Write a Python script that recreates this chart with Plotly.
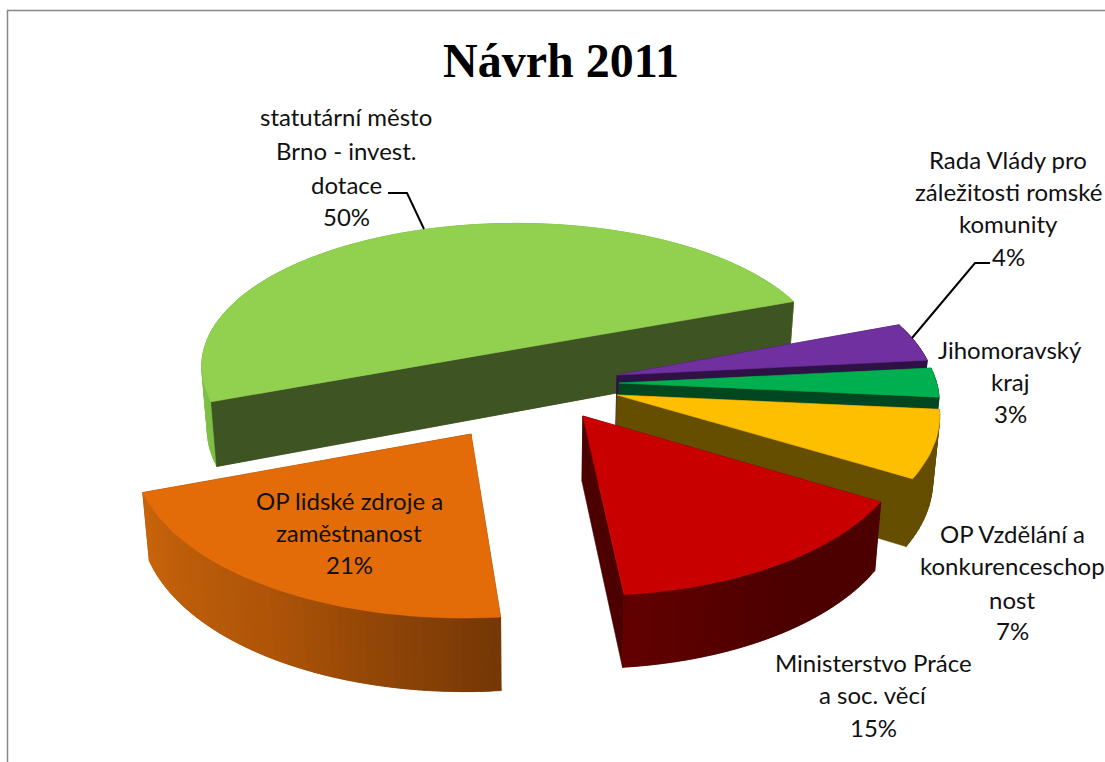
import math
import plotly.graph_objects as go

# ---- data ----
CATEGORIES = ["Rada Vlády pro záležitosti romské komunity", "Jihomoravský kraj",
              "OP Vzdělání a konkurenceschopnost", "Ministerstvo Práce a soc. věcí",
              "OP lidské zdroje a zaměstnanost", "statutární město Brno - invest. dotace"]
VALUES = [4, 3, 7, 15, 21, 50]
TITLE = "Návrh 2011"
LABEL_LINES = [
    ["Rada Vlády pro", "záležitosti romské", "komunity"],
    ["Jihomoravský", "kraj"],
    ["OP Vzdělání a", "konkurenceschop", "nost"],
    ["Ministerstvo Práce", "a soc. věcí"],
    ["OP lidské zdroje a", "zaměstnanost"],
    ["statutární město", "Brno - invest.", "dotace"],
]

# ---- styling / layout constants ----
TOP = ["#7030a0", "#00b050", "#fdbf00", "#c80000", "#e36c09", "#92d050"]
FACE = ["#2e1145", "#004721", "#664e00", "#4d0000", "#753806", "#3e5423"]
WALL = [["#2e1145", "#2e1145"], ["#004721", "#004721"], ["#664e00", "#664e00"],
        ["#620000", "#4d0000", "#4d0000"], ["#c8640c", "#ae5408", "#753806"],
        ["#7ebf45", "#7ebf45"]]
PULL_U = [0.2754, 0.2805, 0.272, 0.163, -0.18, -0.052]
PULL_V = [0.0649, 0.0129, -0.064, -0.196, -0.307, 0.235]
STRETCH_U = [1.0, 1.0, 1.0, 1.0, 1.02, 1.0]
FIRST_ANGLE = 70.0
DRAW_ORDER = [5, 0, 1, 2, 3, 4]
CX, CY, RX, RY, K, K2, DEPTH, CONVERGE = 530.0, 385.0, 318.0, 155.0, 0.10, 0.04, 64.0, 0.983
LABEL_X = [1008, 1010, 1012, 873, 349, 346]
LABEL_Y = [[159.5, 191.5, 223.5, 256.5], [349.5, 381.5, 413.5], [533.5, 565.5, 599.5, 630.5],
           [662.5, 694.5, 727.5], [500.5, 532.5, 564.5], [116.5, 150.5, 184.5, 216.5]]
LEADERS = [([990, 975, 912], [263, 263, 338]), ([388, 407, 424], [193, 193, 229])]
FONT = "Lato"
FS = 24


def project(u, v, low=False):
    w = 1 + K * v + K2 * max(v, 0) ** 2
    x = CX + RX * u / w
    y = CY - RY * v / w
    if low:
        x = CX + (x - CX) * CONVERGE
        y = y + DEPTH / w
    return x, y


def mix(stops, t):
    pos = t * (len(stops) - 1)
    i = min(int(pos), len(stops) - 2)
    f = pos - i
    a = [int(stops[i][j:j + 2], 16) for j in (1, 3, 5)]
    b = [int(stops[i + 1][j:j + 2], 16) for j in (1, 3, 5)]
    return "rgb(%d,%d,%d)" % tuple(round(a[n] + (b[n] - a[n]) * f) for n in range(3))


fig = go.Figure()


def poly(pts, color, lw=0.6):
    xs = [p[0] for p in pts] + [pts[0][0]]
    ys = [p[1] for p in pts] + [pts[0][1]]
    fig.add_trace(go.Scatter(x=xs, y=ys, mode="lines", fill="toself", fillcolor=color,
                             line=dict(color=color, width=lw), hoverinfo="skip", showlegend=False))


total = float(sum(VALUES))
starts = [FIRST_ANGLE + sum(VALUES[:i]) / total * 360.0 for i in range(len(VALUES))]
for i in DRAW_ORDER:
    start = starts[i]
    span = VALUES[i] / total * 360.0
    n = max(4, int(span / 1.5))
    angs = [math.radians(start + span * j / n) for j in range(n + 1)]
    pu, pv = PULL_U[i], PULL_V[i]
    rim = [(pu + STRETCH_U[i] * math.sin(a), pv + math.cos(a)) for a in angs]
    # radial cut faces
    for end in (rim[0], rim[-1]):
        poly([project(pu, pv), project(*end), project(*end, low=True), project(pu, pv, low=True)], FACE[i])
    # outer wall; each strip overlaps the next one so no seams show
    m = len(rim) - 1
    for j in range(m):
        t = 1 - j / max(1, m - 1)
        k = min(j + 2, m)
        strip = rim[j:k + 1]
        poly([project(*p) for p in strip] + [project(*p, low=True) for p in reversed(strip)],
             mix(WALL[i], t))
    if i == 5:  # the back half's cut face sits in front of its own rim
        poly([project(*rim[0]), project(*rim[-1]), project(*rim[-1], low=True), project(*rim[0], low=True)], FACE[i])
    # top
    poly([project(pu, pv)] + [project(*p) for p in rim], TOP[i])

for lx, ly in LEADERS:
    fig.add_trace(go.Scatter(x=lx, y=ly, mode="lines", line=dict(color="black", width=2),
                             hoverinfo="skip", showlegend=False))

# chart frame
fig.add_shape(type="line", x0=7.5, x1=7.5, y0=10, y1=762, line=dict(color="#878787", width=1.5))
fig.add_shape(type="line", x0=7, x1=1105, y0=10.5, y1=10.5, line=dict(color="#878787", width=1.5))

fig.add_annotation(x=561, y=60, text="<b>%s</b>" % TITLE, showarrow=False,
                   font=dict(family="Liberation Serif", size=48, color="black"))
for i, lines in enumerate(LABEL_LINES):
    pct = "%d%%" % round(VALUES[i] / total * 100)
    for txt, y in zip(lines + [pct], LABEL_Y[i]):
        fig.add_annotation(x=LABEL_X[i], y=y, text=txt, showarrow=False, xanchor="center", yanchor="middle",
                           font=dict(family=FONT, size=FS, color="#111111"))

fig.update_layout(width=1105, height=762, margin=dict(l=0, r=0, t=0, b=0), autosize=False,
                  paper_bgcolor="white", plot_bgcolor="white",
                  xaxis=dict(range=[0, 1105], visible=False, fixedrange=True),
                  yaxis=dict(range=[762, 0], visible=False, fixedrange=True))
fig.write_html("out.html", config={"displayModeBar": False},
               post_script="document.body.style.margin='0';document.body.style.overflow='hidden';")
